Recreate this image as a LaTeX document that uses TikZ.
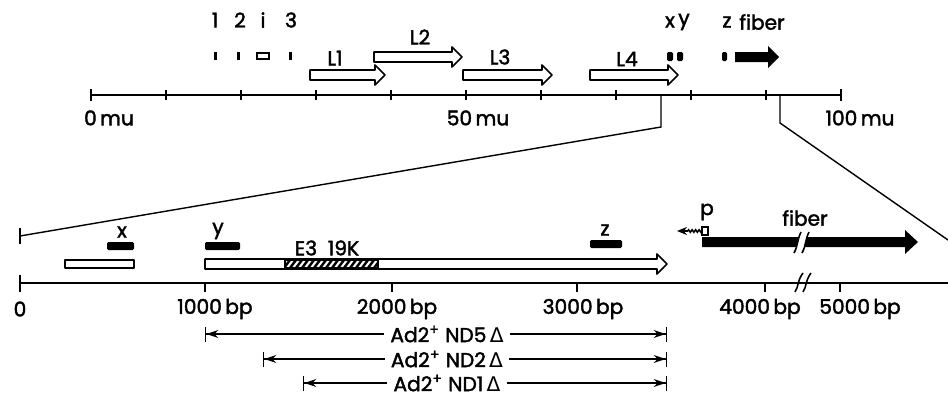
\documentclass[tikz,border=0pt]{standalone}
\usepackage{fontspec}
\setmainfont{Poppins}[AutoFakeBold=2]
\newfontfamily\deltafont{DejaVu Sans}
\usetikzlibrary{arrows.meta,decorations.pathmorphing}

% open gene arrow: [options]{start}{tip}{y}
\newcommand{\openarrow}[4][]{%
  \draw[genebox,#1] (#2,#4-5) -- (#3-10,#4-5) -- (#3-10,#4-10) -- (#3,#4)
    -- (#3-10,#4+10) -- (#3-10,#4+5) -- (#2,#4+5) -- cycle;}

\begin{document}
\begin{tikzpicture}[x=0.02cm,y=-0.02cm,line width=1pt,>=Stealth,
  lbl/.style={font=\fontsize{11.5}{12}\bfseries,inner sep=1pt},
  genebox/.style={draw,line width=1pt,fill=white,line join=round},
  solidbar/.style={fill=black,rounded corners=0.8pt},
  axis/.style={line width=1.1pt},
  dline/.style={line width=0.8pt}]
\useasboundingbox (0,0) rectangle (948,399);
% ---------- map units axis ----------
\draw[axis] (91,95) -- (841,95);
\draw[axis] (91,89) -- (91,101);
\draw[axis] (841,89) -- (841,101);
\foreach \i in {1,...,9}
  \draw[axis] ({91+75*\i},90) -- ({91+75*\i},100);
\node[lbl] (mu0) at (109,118) {0\,mu};
\node[lbl] (mu50) at (478,118) {50\,mu};
\node[lbl] (mu100) at (860,118) {100\,mu};
% ---------- top genes ----------
\node[lbl] (t1) at (215,20) {1};
\node[lbl] (t2) at (240,20) {2};
\node[lbl] (ti) at (263,20) {i};
\node[lbl] (t3) at (291,20) {3};
\fill (213.5,52) rectangle (216.5,60);
\fill (236.5,52) rectangle (239.5,60);
\draw[line width=0.9pt] (257,53) rectangle (269,59);
\fill (288.5,52) rectangle (291.5,60);
\openarrow{310}{385}{75}
\openarrow{374}{462}{57}
\openarrow{463}{552}{75}
\openarrow{590}{678}{75}
\node[lbl] (lL1) at (335,58) {L1};
\node[lbl] (lL2) at (420,37) {L2};
\node[lbl] (lL3) at (500,57) {L3};
\node[lbl] (lL4) at (627,59) {L4};
\fill[solidbar] (667,52) rectangle (673,61);
\fill[solidbar] (677,52) rectangle (683,61);
\fill[solidbar] (722,52) rectangle (727,61);
\fill (735,52) -- (768,52) -- (768,46) -- (779,57) -- (768,68) -- (768,62) -- (735,62) -- cycle;
\node[lbl] (tx) at (670,22) {x};
\node[lbl] (ty) at (684,22) {y};
\node[lbl] (tz) at (727,22) {z};
\node[lbl] (tfib) at (762,22) {fiber};
% ---------- expansion ----------
\coordinate (cutl) at (661,95);
\coordinate (cutr) at (780,95);
\draw[dline] (cutl) -- (661,127) -- (20,236);
\draw[dline] (cutr) -- (780,123) -- (948,240);
\draw[axis] (20,228) -- (20,244);
% ---------- base pair axis ----------
\draw[axis] (20,283) -- (948,283);
\draw[axis] (20,275) -- (20,292);
\foreach \x in {205,392,577,765,840}
  \draw[axis] (\x,283) -- (\x,292);
\draw[line width=0.9pt] (795,292) .. controls (799,286) and (797,281) .. (803,273);
\draw[line width=0.9pt] (803,292) .. controls (807,286) and (805,281) .. (811,273);
\node[lbl] (bp0) at (20,309) {0};
\node[lbl] (bp1) at (215,309) {1000\,bp};
\node[lbl] (bp2) at (397,309) {2000\,bp};
\node[lbl] (bp3) at (583,309) {3000\,bp};
\node[lbl] (bp4) at (760,309) {4000\,bp};
\node[lbl] (bp5) at (860,309) {5000\,bp};
% ---------- lower genes ----------
\draw[genebox] (65,260) rectangle (134,268);
\fill[solidbar] (107,242) rectangle (134,250);
\fill[solidbar] (205,242) rectangle (240,250);
\fill[solidbar] (590,240) rectangle (622,248);
\node[lbl] (lx) at (122,232) {x};
\node[lbl] (ly) at (218,231) {y};
\node[lbl] (lz) at (605,230) {z};
\openarrow{205}{667}{264}
\begin{scope}
  \clip (285,260) rectangle (378,268);
  \foreach \h in {284,290,...,380}
    \draw[line width=1.4pt] (\h,268) -- (\h+6,260);
\end{scope}
\draw (285,260) rectangle (378,268);
\node[lbl] (le3) at (327,248) {E3\ \ 19K};
% promoter p
\draw[line width=0.9pt] (702,227) rectangle (708,235);
\coordinate (ptip) at (677,231);
\draw[line width=0.9pt,-{Stealth[length=2mm,width=1.6mm]},decorate,
  decoration={snake,amplitude=0.7pt,segment length=2pt,post length=2mm}]
  (702,231) -- (ptip);
\node[lbl] (lp) at (707,212) {p};
% fiber
\fill (702,237) -- (799,237) -- (796,247) -- (702,247) -- cycle;
\fill (807,237) -- (905,237) -- (905,230) -- (918,242) -- (905,254) -- (905,247) -- (804,247) -- cycle;
\draw[line width=0.9pt] (794,253) .. controls (798,246) and (797,240) .. (801,232);
\draw[line width=0.9pt] (802,253) .. controls (806,246) and (805,240) .. (809,232);
\node[lbl] (lfib) at (805,218) {fiber};
% ---------- deletions ----------
\foreach \nm/\yy/\xl/\lb in {nd5/334/205/5,nd2/359/263/2,nd1/383/303/1}{
  \node[lbl,inner sep=3pt] (\nm) at (447,\yy) {Ad2\textsuperscript{+} ND\lb\,{\deltafont\mdseries Δ}};
  \coordinate (\nm l) at (\xl,\yy);
  \coordinate (\nm r) at (667,\yy);
  \draw[dline,-{Stealth[length=2.4mm,width=1.6mm] Bar[width=3mm]}] (\nm.west) -- (\nm l);
  \draw[dline,-{Stealth[length=2.4mm,width=1.6mm] Bar[width=3mm]}] (\nm.east) -- (\nm r);
}
\end{tikzpicture}
\end{document}
